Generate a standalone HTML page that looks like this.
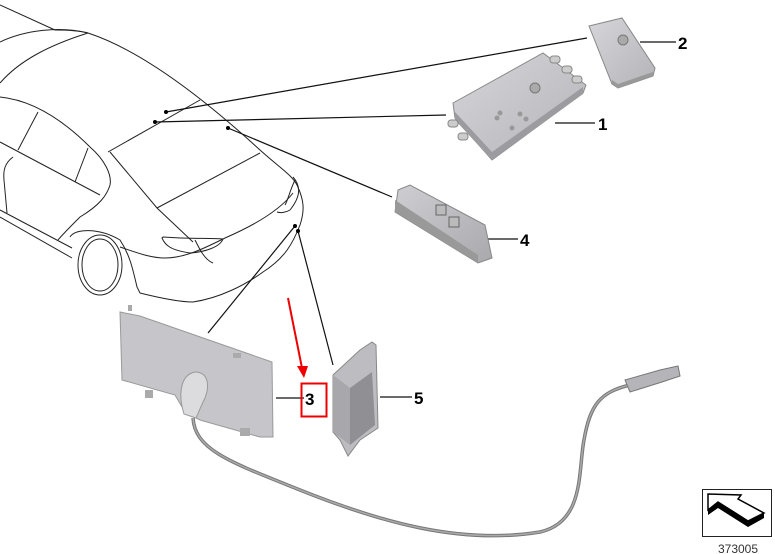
<!DOCTYPE html>
<html><head><meta charset="utf-8"><style>
html,body{margin:0;padding:0;background:#fff;}
svg{display:block;}
text{font-family:"Liberation Sans",sans-serif;}
</style></head><body>
<svg width="775" height="554" viewBox="0 0 775 554" xmlns="http://www.w3.org/2000/svg">
<defs>
<linearGradient id="g1" x1="0" y1="0" x2="1" y2="1"><stop offset="0" stop-color="#d6d6da"/><stop offset="1" stop-color="#b4b4b8"/></linearGradient>
<linearGradient id="g2" x1="0" y1="0" x2="1" y2="1"><stop offset="0" stop-color="#cfcfd3"/><stop offset="1" stop-color="#a9a9ad"/></linearGradient>
</defs>
<!-- car -->
<g fill="none" stroke="#222" stroke-width="1">
<path d="M0,5 L55,30"/>
<path d="M0,42 C25,30 60,26 88,33"/>
<path d="M0,83 C20,60 50,45 88,33"/>
<path d="M55,30 C70,30 80,31 88,33 C140,50 200,95 260,150 C280,168 292,175 297,185"/>
<path d="M0,97 C30,100 60,117 90,147 C105,160 112,175 110,185 C107,195 100,205 80,217 C72,225 62,235 58,240"/>
<path d="M38,112 L18,150"/>
<path d="M88,148 L75,182"/>
<path d="M0,142 L100,195"/>
<path d="M13,157 C5,163 3,170 4,180 L7,213"/>
<path d="M0,210 L72,248"/>
<path d="M0,217 L72,258"/>
<path d="M108,152 L200,100"/>
<path d="M110,152 L157,208 L193,242"/>
<path d="M157,208 L260,153"/>
<path d="M70,237 C75,228 100,228 120,240 C130,255 133,270 137,287 L140,293 C160,298 180,302 193,302 C220,298 245,285 263,272 C285,258 293,243 300,225 C305,210 304,200 297,185"/>
<path d="M120,247 C135,252 150,258 165,258 C185,258 205,248 225,238 C255,225 280,210 293,193"/>
<path d="M162,238 C165,245 170,250 190,253 C205,252 220,247 223,239 C210,238 190,239 163,237 Z"/>
<path d="M195,240 C200,250 205,260 213,263"/>
<path d="M293,177 C300,185 302,195 290,210 C285,213 280,213 277,212"/>
<path d="M295,180 C290,190 288,200 285,205"/>
<ellipse cx="100" cy="265" rx="22" ry="30"/>
<ellipse cx="100" cy="265" rx="18" ry="26"/>
</g>
<!-- leaders -->
<g stroke="#111" stroke-width="1.2" fill="none">
<path d="M166,112 L587,38"/>
<path d="M155,122 L446,115"/>
<path d="M228,128 L392,197"/>
<path d="M295,226 L208,333"/>
<path d="M298,231 L333,365"/>
<path d="M640,42 L676,42"/>
<path d="M555,123 L595,123"/>
<path d="M487,239 L518,239"/>
<path d="M276,398 L304,398"/>
<path d="M380,397 L412,397"/>
</g>
<g fill="#000"><circle cx="166" cy="112" r="2"/><circle cx="155" cy="122" r="2"/><circle cx="228" cy="128" r="2"/><circle cx="295" cy="226" r="2"/><circle cx="298" cy="231" r="2"/></g>
<!-- part 2 -->
<polygon points="589,26 622,18 655,68 653,76 618,88 612,84" fill="url(#g1)" stroke="#888" stroke-width="1"/>
<polygon points="612,80 618,84 653,72 653,76 618,88 612,84" fill="#999"/>
<circle cx="623" cy="40" r="5" fill="#aaa" stroke="#777"/>
<!-- part 1 -->
<polygon points="453,103 543,53 586,85 583,93 492,160 455,118" fill="url(#g1)" stroke="#888" stroke-width="1"/>
<polygon points="455,112 492,152 583,87 583,94 492,160 455,120" fill="#9b9ba0"/>
<g fill="#ccc" stroke="#888"><rect x="550" y="56" width="10" height="7" rx="3"/><rect x="562" y="66" width="10" height="7" rx="3"/><rect x="572" y="76" width="10" height="7" rx="3"/><rect x="448" y="120" width="10" height="7" rx="3"/><rect x="458" y="133" width="10" height="7" rx="3"/></g>
<g fill="#999"><circle cx="500" cy="113" r="2.5"/><circle cx="520" cy="114" r="2.5"/><circle cx="497" cy="118" r="2.5"/><circle cx="526" cy="119" r="2.5"/><circle cx="512" cy="128" r="2.5"/></g>
<circle cx="535" cy="88" r="5" fill="#aaa" stroke="#777"/>
<!-- part 4 -->
<polygon points="398,190 410,185 485,225 492,258 478,263 395,212" fill="url(#g2)" stroke="#888"/>
<polygon points="395,200 478,255 478,263 395,212" fill="#999"/>
<rect x="436" y="205" width="10" height="10" fill="#bbb" stroke="#666"/><rect x="449" y="217" width="10" height="10" fill="#bbb" stroke="#666"/>
<!-- plate (3) -->
<polygon points="120,312 140,316 272,362 273,437 260,437 200,420 185,412 175,395 122,380" fill="#c6c6ca" stroke="#999"/>
<path d="M184,414 C178,395 180,375 195,372 C208,372 210,385 205,398 C200,408 198,414 196,418 Z" fill="#dcdcdf" stroke="#999"/>
<g fill="#aaa"><rect x="145" y="390" width="8" height="8"/><rect x="240" y="428" width="10" height="8"/><rect x="128" y="305" width="4" height="6"/><rect x="233" y="353" width="8" height="5"/></g>
<!-- cable -->
<path d="M193,418 C195,450 230,462 300,490 C380,522 460,545 540,532 C585,522 578,470 584,440 C590,405 600,392 630,385" fill="none" stroke="#777" stroke-width="3.5"/>
<path d="M193,418 C195,450 230,462 300,490 C380,522 460,545 540,532 C585,522 578,470 584,440 C590,405 600,392 630,385" fill="none" stroke="#aaa" stroke-width="1.5"/>
<polygon points="625,380 660,370 678,366 680,376 662,382 630,392" fill="#b5b5b9" stroke="#777"/>
<!-- module 5 -->
<polygon points="333,375 360,350 372,342 376,345 378,428 360,440 348,456 340,440 333,432" fill="#bdbdc1" stroke="#888"/>
<polygon points="333,375 350,388 350,445 333,432" fill="#a8a8ac"/>
<polygon points="350,388 372,372 375,425 350,445" fill="#8f8f94"/>
<!-- labels -->
<g font-weight="bold" font-size="17" fill="#000">
<text x="678" y="49">2</text><text x="598" y="130">1</text><text x="520" y="246">4</text><text x="305" y="405">3</text><text x="414" y="404">5</text>
</g>
<rect x="301.5" y="383.5" width="25" height="33" fill="none" stroke="#e00" stroke-width="2"/>
<path d="M288,298 L302,368" stroke="#e00" stroke-width="2"/>
<polygon points="297,366 308,366 304,378" fill="#e00"/>
<!-- icon -->
<rect x="702.5" y="489.5" width="69" height="47" fill="#fff" stroke="#222"/>
<path d="M708,494 L708,510 L718,502 L748,521 L764,513 L738,499 L741,495 Z" fill="#fff" stroke="#000" stroke-width="1.5"/>
<path d="M708,510 L718,502 L748,521 L764,513 L764,518 L748,527 L718,508 L708,515 Z" fill="#000"/>
<text x="738" y="553" font-size="12" text-anchor="middle" fill="#333">373005</text>
</svg>
</body></html>
